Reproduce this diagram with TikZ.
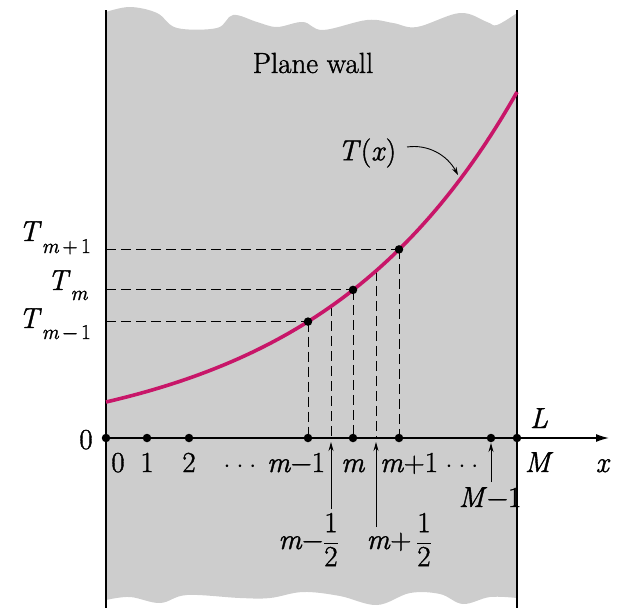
\documentclass[tikz,border=0pt]{standalone}
\usepackage{fontspec}
\setmainfont{Latin Modern Roman}[RawFeature={embolden=1.3}]
\usetikzlibrary{arrows.meta}
\definecolor{wallgray}{RGB}{205,205,205}
\definecolor{curvemag}{RGB}{200,22,105}
\begin{document}
\begin{tikzpicture}[x=1pt,y=-1pt,
  lbl/.style={font=\fontsize{29}{32}\selectfont, inner sep=0pt},
  dotnode/.style={circle, fill=black, inner sep=0pt, minimum size=8.5pt},
  dashln/.style={dash pattern=on 10pt off 5pt, line width=0.9pt},
  wallline/.style={line width=1.4pt},
  uparrow/.style={line width=0.9pt, -{Stealth[length=9pt,width=5pt]}},
]
\useasboundingbox (0,0) rectangle (621,608);
% wall
\fill[wallgray] (106,12) -- plot[smooth, tension=0.6] coordinates {(106,12) (130,7) (157,13) (177,28) (217,28) (233,15) (257,22) (277,27) (303,22) (323,30) (367,20) (393,23) (417,27) (460,13) (487,22) (497,25) (517,13)}
  -- (517,598) -- plot[smooth, tension=0.6] coordinates {(517,598) (490,597) (463,604) (440,594) (410,593) (377,605) (340,596) (303,592) (270,598) (240,598) (187,595) (160,603) (130,597) (106,600)} -- cycle;
\draw[wallline] (106,10) -- (106,608);
\draw[wallline] (517,10) -- (517,608);

% axis points
\coordinate (a0) at (106,438);
\coordinate (a1) at (147,438);
\coordinate (a2) at (189,438);
\coordinate (am1) at (308,438);
\coordinate (hm) at (331,438);
\coordinate (am) at (353,438);
\coordinate (hp) at (376,438);
\coordinate (ap1) at (399,438);
\coordinate (aM1) at (491,438);
\coordinate (aM) at (517,438);
\coordinate (xend) at (609,438);

% curve points
\coordinate (pm1) at (308,321.6);
\coordinate (qm) at (331,306.3);
\coordinate (pm) at (353,289.9);
\coordinate (qp) at (376,270.8);
\coordinate (pp1) at (399,249.4);
\coordinate (lm1) at (106,321.6);
\coordinate (lm) at (106,289.9);
\coordinate (lp1) at (106,249.4);

% dashed guides
\draw[dashln] (lm1) -- (pm1);
\draw[dashln] (lm) -- (pm);
\draw[dashln] (lp1) -- (pp1);
\draw[dashln] (pm1) -- (am1);
\draw[dashln] (qm) -- (hm);
\draw[dashln] (pm) -- (am);
\draw[dashln] (qp) -- (hp);
\draw[dashln] (pp1) -- (ap1);

% temperature curve
\draw[curvemag, line width=3.6pt] plot[domain=106:517, samples=80, smooth] (\x, {449.1-47.1*exp(0.00493*(\x-106))});

% axis
\draw[line width=1.4pt, -{Latex[length=13pt,width=8pt]}] (a0) -- (xend);

% dots
\foreach \p in {a0,a1,a2,am1,am,ap1,aM1,aM,pm1,pm,pp1}
  \node[dotnode] (d\p) at (\p) {};

% labels
\node[lbl] (wall) at (313,63) {Plane wall};
\node[lbl] (tx) at (367,153) {\textit{T}(\textit{x})};
\coordinate (txs) at (407,147);
\coordinate (txe) at (458,175);
\draw[line width=0.9pt, -{Stealth[length=8pt,width=5pt]}] (txs) .. controls (428,144) and (447,155) .. (txe);

\node[lbl, anchor=base east] (Tp1) at (91,241) {\textit{T}\raisebox{-12pt}{\fontsize{21}{22}\selectfont\textit{m}\,+\,1}};
\node[lbl, anchor=base east] (Tm) at (88,290) {\textit{T}\raisebox{-10pt}{\fontsize{21}{22}\selectfont\textit{m}}};
\node[lbl, anchor=base east] (Tm1) at (91,328) {\textit{T}\raisebox{-11pt}{\fontsize{21}{22}\selectfont\textit{m}\,−\,1}};

\node[lbl, anchor=base] (zl) at (86,449) {0};
\node[lbl, anchor=base] (n0) at (118,472) {0};
\node[lbl, anchor=base] (n1) at (147,472) {1};
\node[lbl, anchor=base] (n2) at (189,472) {2};
\node[lbl, anchor=base] (dots1) at (240,472) {${\cdot}\hspace{6pt}{\cdot}\hspace{6pt}{\cdot}$};
\node[lbl, anchor=base] (nm1) at (296,472) {\textit{m}−1};
\node[lbl, anchor=base] (nm) at (353,472) {\textit{m}};
\node[lbl, anchor=base] (np1) at (409,472) {\textit{m}+1};
\node[lbl, anchor=base] (dots2) at (462,472) {${\cdot}\hspace{6pt}{\cdot}\hspace{6pt}{\cdot}$};
\node[lbl, anchor=base] (nM) at (539,472) {\textit{M}};
\node[lbl, anchor=base] (nx) at (603,472) {\textit{x}};
\node[lbl, anchor=base] (nL) at (539,428) {\textit{L}};
\node[lbl, anchor=base] (nM1) at (490,507) {\textit{M}−1};

\node[lbl, anchor=base east] (hml) at (339,549) {\textit{m}−$\displaystyle\frac{\hbox{1}}{\hbox{2}}$};
\node[lbl, anchor=base east] (hpl) at (432,549) {\textit{m}+\,$\displaystyle\frac{\hbox{1}}{\hbox{2}}$};

% up arrows
\coordinate (hmb) at (331,509);
\coordinate (hpb) at (376,527);
\coordinate (aMb) at (491,482);
\draw[uparrow, shorten >=4pt] (hmb) -- (hm);
\draw[uparrow, shorten >=4pt] (hpb) -- (hp);
\draw[uparrow, shorten >=5pt] (aMb) -- (aM1);
\end{tikzpicture}
\end{document}
